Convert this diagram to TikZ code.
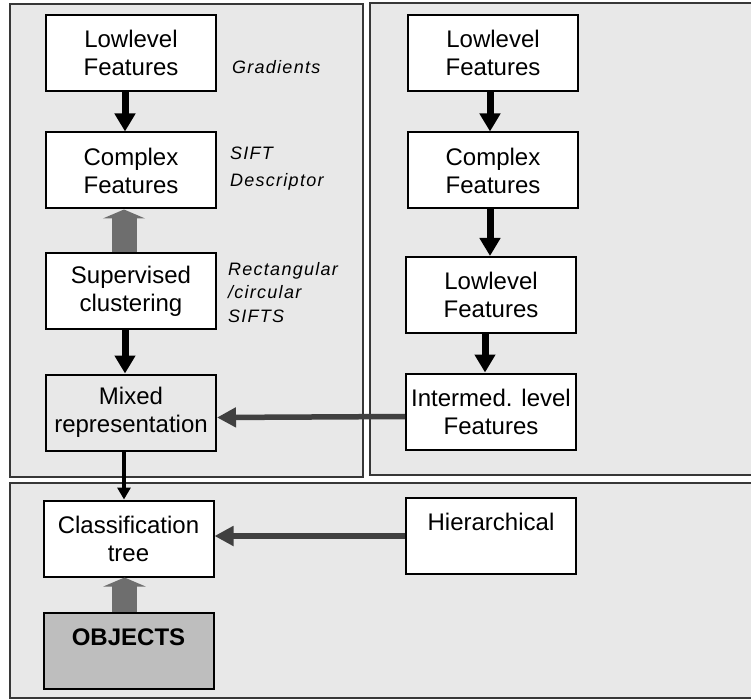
\documentclass[tikz,border=0pt]{standalone}
\usepackage{fontspec}
\setmainfont{Liberation Sans}
\usetikzlibrary{arrows.meta}
\definecolor{panelgray}{RGB}{232,232,232}
\definecolor{framegray}{RGB}{55,55,55}
\definecolor{blockgray}{RGB}{110,110,110}
\definecolor{linkgray}{RGB}{64,64,64}
\definecolor{objgray}{RGB}{190,190,190}

\begin{document}
\begin{tikzpicture}[x=1pt, y=-1pt,
  panel/.style={draw=framegray, line width=2pt, fill=panelgray},
  box/.style={draw=black, line width=2pt, fill=white, minimum width=170pt, minimum height=76pt,
    inner sep=0pt, align=center, font=\fontsize{24}{28}\selectfont},
  note/.style={anchor=north west, align=left, inner sep=0pt,
    font=\fontsize{18}{23.5}\selectfont\itshape\addfontfeature{LetterSpace=7}},
  down/.style={line width=7pt, -{Triangle[width=20pt,length=18pt]}},
  downthin/.style={line width=3.5pt, -{Triangle[width=13pt,length=12pt]}},
  blockup/.style={blockgray, line width=25pt, -{Triangle[width=42pt,length=9pt]}},
  across/.style={linkgray, line width=5.5pt, -{Triangle[width=19pt,length=19pt]}}]
\useasboundingbox (0,0) rectangle (751,700);
\clip (0,0) rectangle (751,700);

\draw[panel] (10,4) rectangle (363,477);
\draw[panel] (370,3) rectangle (760,475);
\draw[panel] (10,483) rectangle (760,698);

\node[box] (lowA) at (131,53) {Lowlevel\\Features};
\node[box] (cpxA) at (131,170.5) {Complex\\Features};
\node[box] (supA) at (131,291) {Supervised\\clustering};
\node[box, fill=panelgray] (mixA) at (131,412.5) {Mixed\\representation};

\node[box] (lowB) at (493,53) {Lowlevel\\Features};
\node[box] (cpxB) at (493,170.5) {Complex\\Features};
\node[box] (lowC) at (491,295) {Lowlevel\\Features};
\node[box] (intB) at (491,411.5) {Intermed. level\\Features};

\node[box] (clsT) at (128.5,538.5) {Classification\\tree};
\node[box] (hierT) at (491,536) {Hierarchical\\\phantom{tree}};
\node[box, fill=objgray, font=\fontsize{24}{28}\selectfont\bfseries] (objT) at (128.5,651) {OBJECTS\\\phantom{tree}};

\node[note, anchor=base west] (gradN) at (232,74) {Gradients};
\node[note] (siftN) at (230,147) {SIFT\\[3pt]Descriptor};
\node[note] (rectN) at (228,262) {Rectangular\\/circular\\SIFTS};

\draw[down] ([xshift=-6pt]lowA.south) -- ([xshift=-6pt]cpxA.north);
\draw[blockup] ([xshift=-7pt]supA.north) -- ([xshift=-7pt]cpxA.south);
\draw[down] ([xshift=-6pt]supA.south) -- ([xshift=-6pt]mixA.north);

\draw[down] ([xshift=-3pt]lowB.south) -- ([xshift=-3pt]cpxB.north);
\draw[down] ([xshift=-3pt]cpxB.south) -- ([xshift=-1pt]lowC.north);
\draw[down] ([xshift=-6pt]lowC.south) -- ([xshift=-6pt]intB.north);
\draw[across] ([yshift=-5pt]intB.west) -- ([yshift=-5pt]mixA.east);

\draw[downthin] ([xshift=-7pt]mixA.south) -- ([xshift=-4.5pt]clsT.north);
\draw[across] (hierT.west) -- (clsT.east |- hierT.west);
\draw[blockup] ([xshift=-4pt]objT.north) -- ([xshift=-4pt]clsT.south);
\end{tikzpicture}
\end{document}
